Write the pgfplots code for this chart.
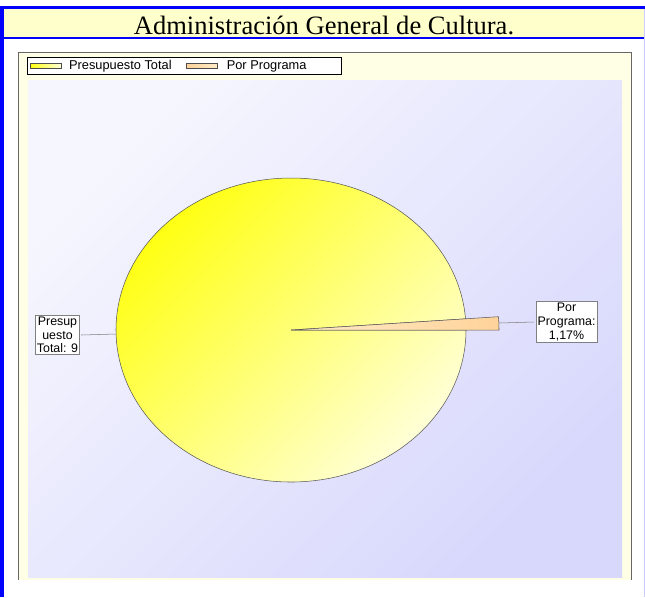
\documentclass[border=0pt]{standalone}
\usepackage{pgfplots}
\pgfplotsset{compat=1.18}
\usepackage{pgfplotstable}
\usepackage{fontspec}
\setmainfont{Liberation Sans}
\newfontfamily\titlefont{Liberation Serif}

\definecolor{frameyel}{HTML}{FFFFE6}
\definecolor{titleyel}{HTML}{FFFFCC}
\definecolor{bgtl}{HTML}{F6F6FE}
\definecolor{bgbr}{HTML}{D8D8FD}
\definecolor{pieA}{HTML}{FFFF10}
\definecolor{pieB}{HTML}{FFFFD8}
\definecolor{sliceA}{HTML}{FFD39A}
\definecolor{sliceB}{HTML}{FFEBC8}

% pie data (percent)
\pgfplotstableread{
name value
Presupuesto 98.83
Programa 1.17
}\piedata

\pgfplotstablegetelem{0}{value}\of\piedata \let\valA\pgfplotsretval
\pgfplotstablegetelem{1}{value}\of\piedata \let\valB\pgfplotsretval
\pgfmathsetmacro\angB{360*\valB/(\valA+\valB)}

\newcommand{\lblfont}{\fontsize{9.3}{10.2}\selectfont}
\newcommand{\legfont}{\fontsize{9.6}{11}\selectfont}

\begin{document}
\begin{tikzpicture}
\begin{axis}[
    scale only axis,
    width=483.75pt, height=447.75pt,
    xmin=0, xmax=645, ymin=0, ymax=597,
    y dir=reverse,
    hide axis, clip=false,
    legend image code/.code={\draw[#1] (0pt,-1.8pt) rectangle (23pt,1.8pt);},
    legend style={at={(0.0419,0.9045)}, anchor=north west,
        draw=black, line width=0.4pt, fill=white,
        font=\legfont, inner xsep=2pt, inner ysep=0.3pt,
        legend columns=-1,
        /tikz/every even column/.append style={column sep=9pt}},
    legend cell align=left,
]
% page background and borders
\fill[white] (axis cs:0,0) rectangle (axis cs:645,597);
\fill[titleyel] (axis cs:4,9) rectangle (axis cs:645,37);
\fill[blue] (axis cs:0,6) rectangle (axis cs:645,9);
\fill[blue] (axis cs:4,37) rectangle (axis cs:645,39);
\fill[blue] (axis cs:0,6) rectangle (axis cs:4,597);
\draw[blue!20] (axis cs:644.5,9) -- (axis cs:644.5,597);
\node[font=\titlefont\fontsize{19.9}{22}\selectfont, anchor=base]
    at (axis cs:324,34.5) {Administración General de Cultura.};

% chart frame and plot area
\fill[frameyel] (axis cs:18,52) rectangle (axis cs:631,580);
\draw[gray!80!black] (axis cs:18,580) -- (axis cs:18,52) -- (axis cs:631,52) -- (axis cs:631,580);
\shade[top color=bgtl, bottom color=bgbr, shading angle=45]
    (axis cs:28,80) rectangle (axis cs:622,577);

% main slice
\shade[top color=pieA, bottom color=pieB, shading angle=45]
    (axis cs:291,330) -- ++(\angB:131.25pt and 114pt)
    arc[start angle=\angB, end angle=360, x radius=131.25pt, y radius=114pt] -- cycle;
\draw[gray!70!black, line width=0.4pt]
    (axis cs:291,330) -- ++(\angB:131.25pt and 114pt)
    arc[start angle=\angB, end angle=360, x radius=131.25pt, y radius=114pt] -- cycle;
% small slice (pulled out)
\draw[gray!70!black, line width=0.4pt, left color=sliceB, right color=sliceA]
    (axis cs:291,330) -- ++(0:156pt and 136pt)
    arc[start angle=0, end angle=\angB, x radius=156pt, y radius=136pt] -- cycle;

\addlegendimage{draw=gray!60!black, left color=pieA, right color=pieB}
\addlegendentry{\hspace{4pt}Presupuesto Total}
\addlegendimage{draw=gray!60!black, left color=sliceA, right color=sliceB}
\addlegendentry{\hspace{5pt}Por Programa\hspace*{22pt}}

% data labels
\draw[gray] (axis cs:81,335) -- (axis cs:116,334);
\node[draw=gray, fill=white, align=center, font=\lblfont, inner sep=1.2pt]
    at (axis cs:57.5,335) {Presup\\uesto\\Total: 9};
\draw[gray] (axis cs:499,323) -- (axis cs:534,322);
\node[draw=gray, fill=white, align=center, font=\lblfont, inner sep=1.2pt]
    at (axis cs:566.5,322) {Por\\Programa:\\1,17\%};
\end{axis}
\end{tikzpicture}
\end{document}
